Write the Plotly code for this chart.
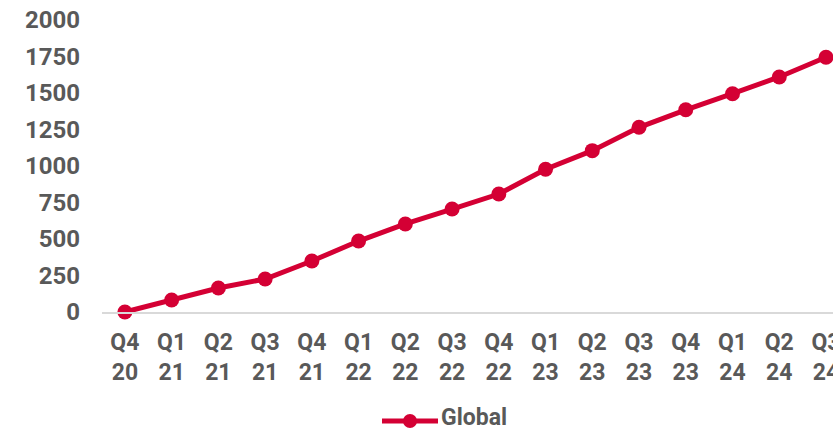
import plotly.graph_objects as go

# Quarterly cumulative totals
quarters = ["Q4 20", "Q1 21", "Q2 21", "Q3 21", "Q4 21", "Q1 22", "Q2 22", "Q3 22",
            "Q4 22", "Q1 23", "Q2 23", "Q3 23", "Q4 23", "Q1 24", "Q2 24", "Q3 24"]
global_values = [0, 82, 164, 226, 349, 486, 603, 705,
                 808, 978, 1105, 1265, 1385, 1495, 1610, 1745]
y_ticks = [0, 250, 500, 750, 1000, 1250, 1500, 1750, 2000]
series_name = "Global"

RED = "#D40034"
GRAY = "#595959"
FONT = "Roboto"

# Page and plot-area geometry (pixels)
W, H = 833, 432
ML, MR, MT, MB = 102, 0, 20, 120
PW, PH = W - ML - MR, H - MT - MB


def px_x(p):
    return (p - ML) / PW


def px_y(p):
    return (H - MB - p) / PH


tick_text = [q.replace(" ", "<br>") for q in quarters]

fig = go.Figure()
fig.add_trace(go.Scatter(
    x=quarters, y=global_values, name=series_name, mode="lines+markers",
    line=dict(color=RED, width=5),
    marker=dict(color=RED, size=15),
    cliponaxis=False, showlegend=False,
))

# Legend key drawn below the axis: a wide line sample with a dot, then the label
leg_y = 421
fig.add_shape(type="line", xref="paper", yref="paper",
              x0=px_x(382), x1=px_x(438), y0=px_y(leg_y), y1=px_y(leg_y),
              line=dict(color=RED, width=5))
fig.add_shape(type="circle", xref="paper", yref="paper",
              x0=px_x(403), x1=px_x(417), y0=px_y(leg_y + 7), y1=px_y(leg_y - 7),
              fillcolor=RED, line=dict(width=0))
fig.add_annotation(text=series_name, xref="paper", yref="paper",
                   x=px_x(440), y=px_y(H), xanchor="left", yanchor="bottom",
                   showarrow=False, borderpad=0,
                   font=dict(family=FONT, size=23, color=GRAY, weight="bold"))

fig.update_layout(
    width=W, height=H,
    margin=dict(l=ML, r=MR, t=MT, b=MB),
    paper_bgcolor="white", plot_bgcolor="white",
    font=dict(family=FONT, color=GRAY, size=23, weight="bold"),
    showlegend=False,
    xaxis=dict(
        type="category", categoryorder="array", categoryarray=quarters,
        range=[-0.49, 15.15], automargin=False,
        tickmode="array", tickvals=quarters, ticktext=tick_text,
        showgrid=False, zeroline=False,
        showline=True, linecolor="#D9D9D9", linewidth=2,
        ticks="", ticklabelstandoff=8,
        tickfont=dict(family=FONT, size=23, color=GRAY, weight="bold"),
    ),
    yaxis=dict(
        range=[0, 2000], tickvals=y_ticks, automargin=False,
        showgrid=False, zeroline=False, showline=False,
        ticks="", ticklabelstandoff=21,
        tickfont=dict(family=FONT, size=24, color=GRAY, weight="bold"),
    ),
)

fig.write_html("out.html")
